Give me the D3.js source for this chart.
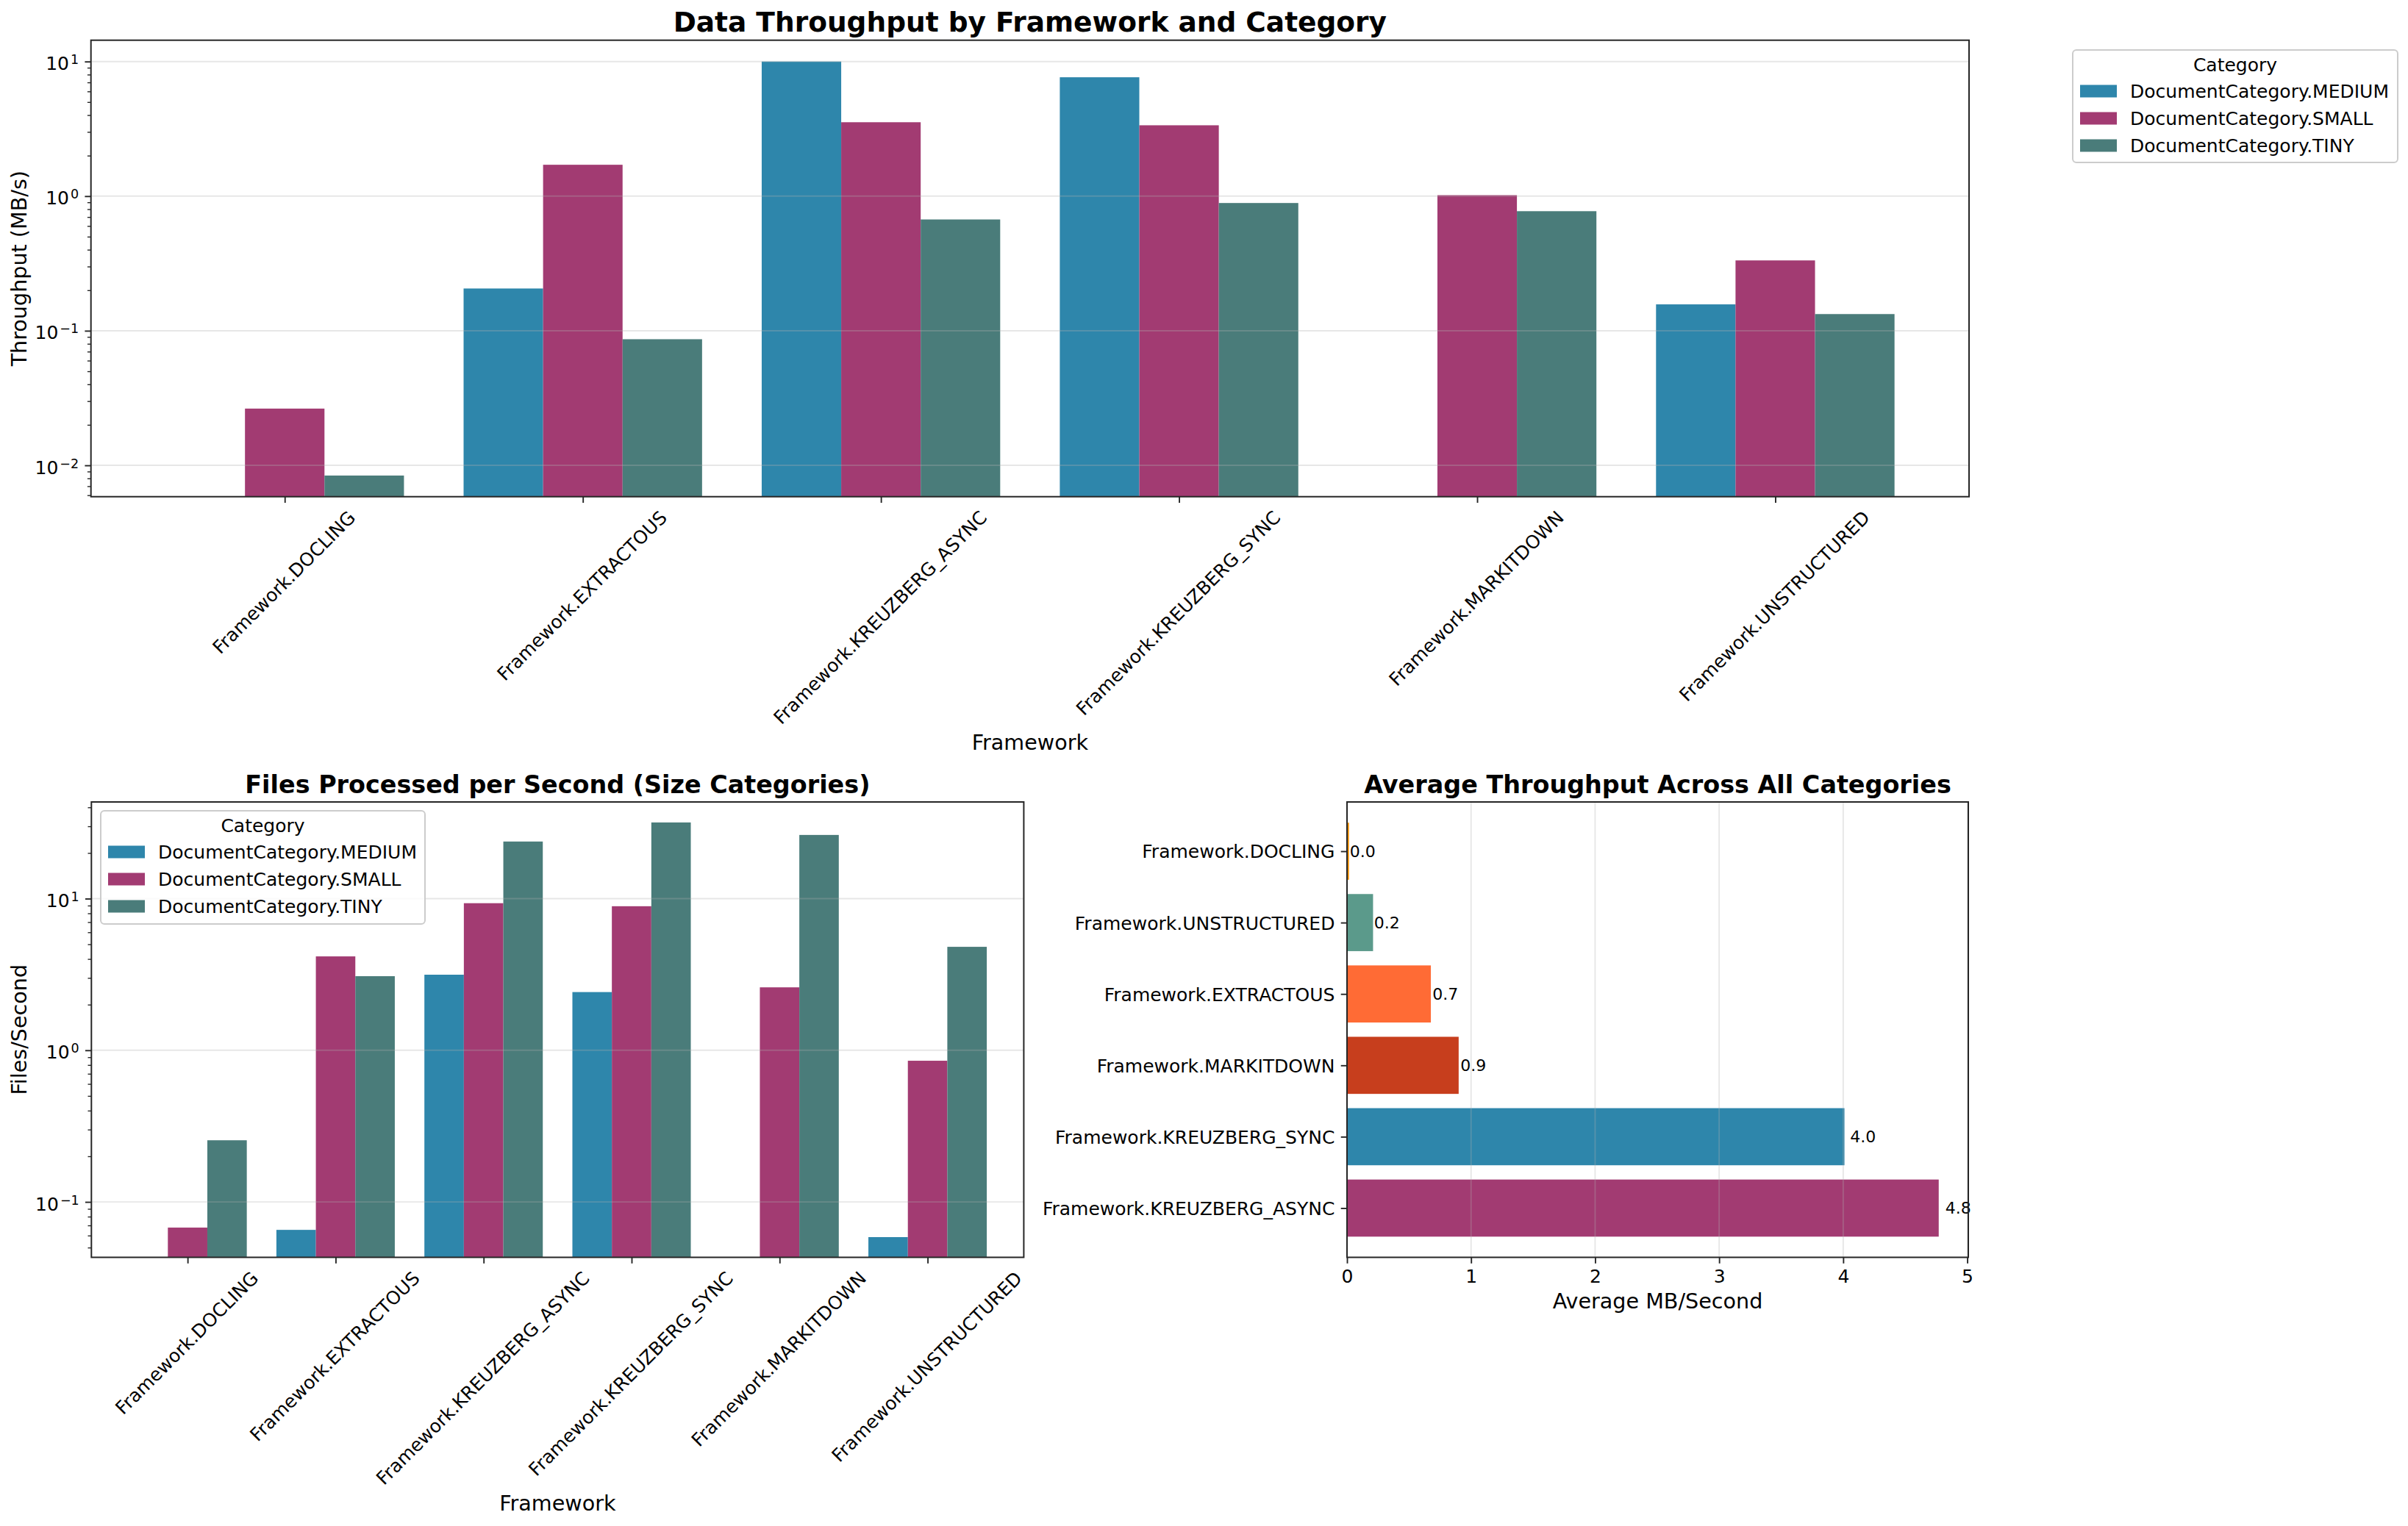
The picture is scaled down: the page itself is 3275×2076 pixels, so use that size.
<!DOCTYPE html>
<html>
<head>
<meta charset="utf-8">
<script src="https://cdnjs.cloudflare.com/ajax/libs/d3/7.8.5/d3.min.js"></script>
<style>
  body { margin: 0; background: #fff; }
  svg { display: block; font-family: "DejaVu Sans", sans-serif; }
</style>
</head>
<body>
<svg id="chart" width="3275" height="2076"></svg>
<script>
// ---- data ----
const frameworks = [
  "Framework.DOCLING", "Framework.EXTRACTOUS", "Framework.KREUZBERG_ASYNC",
  "Framework.KREUZBERG_SYNC", "Framework.MARKITDOWN", "Framework.UNSTRUCTURED"
];
const categories = ["DocumentCategory.MEDIUM", "DocumentCategory.SMALL", "DocumentCategory.TINY"];
const categoryColors = ["#2E86AB", "#A23B72", "#4A7C7A"];

// MB/s (null = no bar)
const mbMedium = [null, 0.206, 10.0, 7.64, null, 0.157];
const mbSmall  = [0.0264, 1.71, 3.54, 3.36, 1.016, 0.333];
const mbTiny   = [0.0084, 0.0865, 0.671, 0.889, 0.773, 0.133];

// files / second
const filesMedium = [null, 0.0654, 3.15, 2.42, null, 0.0586];
const filesSmall  = [0.0677, 4.16, 9.33, 8.91, 2.60, 0.853];
const filesTiny   = [0.255, 3.08, 23.8, 31.8, 26.3, 4.81];

// average throughput, bottom to top
const avgFrameworks = [
  "Framework.KREUZBERG_ASYNC", "Framework.KREUZBERG_SYNC", "Framework.MARKITDOWN",
  "Framework.EXTRACTOUS", "Framework.UNSTRUCTURED", "Framework.DOCLING"
];
const avgValues = [4.77, 4.01, 0.90, 0.676, 0.21, 0.016];
const avgColors = ["#A23B72", "#2E86AB", "#C73E1D", "#FF6B35", "#5B9A8B", "#F18F01"];

const svg = d3.select("#chart");
svg.append("rect").attr("width", 3275).attr("height", 2076).attr("fill", "#fff");

const TICK = 25, LABEL = 28.6, TITLE = 33.4;
const tickLen = 8.3, tickPad = 8.3;

function styleAxis(g) {
  g.attr("font-family", null).attr("font-size", TICK);
  g.select(".domain").remove();
  g.selectAll(".tick line").attr("stroke", "#262626").attr("stroke-width", 1.9);
  g.selectAll(".tick text").attr("fill", "#000");
}

function frame(box) {
  svg.append("rect")
    .attr("x", box.left).attr("y", box.top)
    .attr("width", box.right - box.left).attr("height", box.bottom - box.top)
    .attr("fill", "none").attr("stroke", "#262626").attr("stroke-width", 2);
}

function drawLegend(x0, y0, w, h) {
  const g = svg.append("g");
  g.append("rect").attr("x", x0).attr("y", y0).attr("width", w).attr("height", h)
    .attr("rx", 5).attr("fill", "#fff").attr("fill-opacity", 0.8)
    .attr("stroke", "#cccccc").attr("stroke-width", 2);
  g.append("text").attr("x", x0 + w / 2).attr("y", y0 + 20).attr("dy", "0.36em")
    .attr("text-anchor", "middle").attr("font-size", TICK).text("Category");
  categories.forEach((c, j) => {
    const cy = y0 + 56 + j * 37;
    g.append("rect").attr("x", x0 + 10).attr("y", cy - 8.5).attr("width", 50).attr("height", 17)
      .attr("fill", categoryColors[j]);
    g.append("text").attr("x", x0 + 78).attr("y", cy).attr("dy", "0.36em")
      .attr("font-size", TICK).text(c);
  });
}

function groupedLogChart(box, series, yDomain, title, titleSize, yLabel, xLabel, xLabelY) {
  const n = frameworks.length;
  const x = d3.scaleLinear().domain([-0.65, n - 1 + 0.65]).range([box.left, box.right]);
  const y = d3.scaleLog().domain(yDomain).range([box.bottom, box.top]);
  const barW = 0.8 / series.length;

  // bars
  series.forEach((vals, j) => {
    svg.append("g").selectAll("rect")
      .data(vals.map((v, i) => ({ v, i })).filter(d => d.v != null))
      .enter().append("rect")
      .attr("x", d => x(d.i - 0.4 + j * barW))
      .attr("width", x(barW) - x(0))
      .attr("y", d => y(d.v))
      .attr("height", d => box.bottom - y(d.v))
      .attr("fill", categoryColors[j]);
  });

  // major decades / minor ticks
  const lo = Math.floor(Math.log10(yDomain[0])), hi = Math.ceil(Math.log10(yDomain[1]));
  const majors = d3.range(lo, hi + 1).map(e => Math.pow(10, e)).filter(v => v >= yDomain[0] && v <= yDomain[1]);
  const minors = [];
  d3.range(lo, hi + 1).forEach(e => {
    d3.range(2, 10).forEach(m => {
      const v = m * Math.pow(10, e);
      if (v >= yDomain[0] && v <= yDomain[1]) minors.push(v);
    });
  });

  // grid on top of bars
  svg.append("g").selectAll("line").data(majors).enter().append("line")
    .attr("x1", box.left).attr("x2", box.right)
    .attr("y1", d => y(d)).attr("y2", d => y(d))
    .attr("stroke", "#b0b0b0").attr("stroke-opacity", 0.3).attr("stroke-width", 1.9);

  // y axis
  const yAxis = svg.append("g").attr("transform", `translate(${box.left},0)`)
    .call(d3.axisLeft(y).tickValues(majors).tickSize(tickLen).tickPadding(tickPad));
  styleAxis(yAxis);
  yAxis.selectAll(".tick text").each(function (d) {
    const t = d3.select(this);
    const e = String(Math.round(Math.log10(d))).replace("-", "\u2212");
    t.text(null).attr("dy", 11);
    t.append("tspan").text("10");
    t.append("tspan").attr("dy", -8).attr("dx", 2).attr("font-size", 17.5).text(e);
  });
  const yMinor = svg.append("g").attr("transform", `translate(${box.left},0)`)
    .call(d3.axisLeft(y).tickValues(minors).tickSize(4.8).tickFormat(""));
  styleAxis(yMinor);
  yMinor.selectAll(".tick line").attr("stroke-width", 1.4);

  // x axis with rotated names
  const xAxis = svg.append("g").attr("transform", `translate(0,${box.bottom})`)
    .call(d3.axisBottom(x).tickValues(d3.range(n)).tickFormat(i => frameworks[i])
      .tickSize(tickLen).tickPadding(tickPad));
  styleAxis(xAxis);
  const A = 0.76 * TICK, D = 0.24 * TICK, top = tickLen + tickPad;
  xAxis.selectAll(".tick text").each(function () {
    const t = d3.select(this);
    const W = this.getComputedTextLength();
    const tx = -(W + D - A) / (2 * Math.SQRT2);
    const ty = top + (W + A) / Math.SQRT2;
    t.attr("text-anchor", "start").attr("x", 0).attr("y", 0).attr("dy", null)
      .attr("transform", `translate(${tx},${ty}) rotate(-45)`);
  });

  frame(box);

  const cx = (box.left + box.right) / 2;
  svg.append("text").attr("x", cx).attr("y", box.top - 11.8)
    .attr("text-anchor", "middle").attr("font-weight", "bold").attr("font-size", titleSize).text(title);
  svg.append("text").attr("transform", `translate(36,${(box.top + box.bottom) / 2}) rotate(-90)`)
    .attr("text-anchor", "middle").attr("font-size", LABEL).text(yLabel);
  svg.append("text").attr("x", cx).attr("y", xLabelY)
    .attr("text-anchor", "middle").attr("font-size", LABEL).text(xLabel);
}

// ---- top: MB/s ----
groupedLogChart(
  { left: 123.7, right: 2678, top: 54.7, bottom: 675.7 },
  [mbMedium, mbSmall, mbTiny], [0.00585, 14.4],
  "Data Throughput by Framework and Category", 37.5, "Throughput (MB/s)", "Framework", 1020
);
drawLegend(2819, 68, 442, 153);

// ---- bottom left: files/s ----
groupedLogChart(
  { left: 124.3, right: 1392.4, top: 1091, bottom: 1710.5 },
  [filesMedium, filesSmall, filesTiny], [0.0431, 43.4],
  "Files Processed per Second (Size Categories)", TITLE, "Files/Second", "Framework", 2055
);
drawLegend(137, 1103, 441, 154);

// ---- bottom right: average throughput ----
(function () {
  const box = { left: 1832, right: 2677, top: 1091, bottom: 1710.5 };
  const x = d3.scaleLinear().domain([0, d3.max(avgValues) * 1.05]).range([box.left, box.right]);
  const y = d3.scaleLinear().domain([-0.69, avgFrameworks.length - 1 + 0.69]).range([box.bottom, box.top]);
  const xTicks = [0, 1, 2, 3, 4, 5];

  svg.append("g").selectAll("rect").data(avgValues).enter().append("rect")
    .attr("x", box.left)
    .attr("y", (d, i) => y(i + 0.4))
    .attr("width", d => x(d) - x(0))
    .attr("height", y(0) - y(0.8))
    .attr("fill", (d, i) => avgColors[i]);

  svg.append("g").selectAll("line").data(xTicks).enter().append("line")
    .attr("x1", d => x(d)).attr("x2", d => x(d))
    .attr("y1", box.top).attr("y2", box.bottom)
    .attr("stroke", "#b0b0b0").attr("stroke-opacity", 0.3).attr("stroke-width", 1.9);

  svg.append("g").selectAll("text").data(avgValues).enter().append("text")
    .attr("x", d => x(d * 1.01) + 1)
    .attr("y", (d, i) => y(i)).attr("dy", "0.35em")
    .attr("font-size", 22).text(d => d.toFixed(1));

  const xAxis = svg.append("g").attr("transform", `translate(0,${box.bottom})`)
    .call(d3.axisBottom(x).tickValues(xTicks).tickFormat(d3.format("d")).tickSize(tickLen).tickPadding(tickPad));
  styleAxis(xAxis);

  const yAxis = svg.append("g").attr("transform", `translate(${box.left},0)`)
    .call(d3.axisLeft(y).tickValues(d3.range(avgFrameworks.length)).tickFormat(i => avgFrameworks[i])
      .tickSize(tickLen).tickPadding(tickPad));
  styleAxis(yAxis);
  yAxis.selectAll(".tick text").attr("dy", "0.36em");

  frame(box);

  const cx = (box.left + box.right) / 2;
  svg.append("text").attr("x", cx).attr("y", box.top - 11.8)
    .attr("text-anchor", "middle").attr("font-weight", "bold").attr("font-size", TITLE)
    .text("Average Throughput Across All Categories");
  svg.append("text").attr("x", cx).attr("y", 1780)
    .attr("text-anchor", "middle").attr("font-size", LABEL).text("Average MB/Second");
})();
</script>
</body>
</html>
